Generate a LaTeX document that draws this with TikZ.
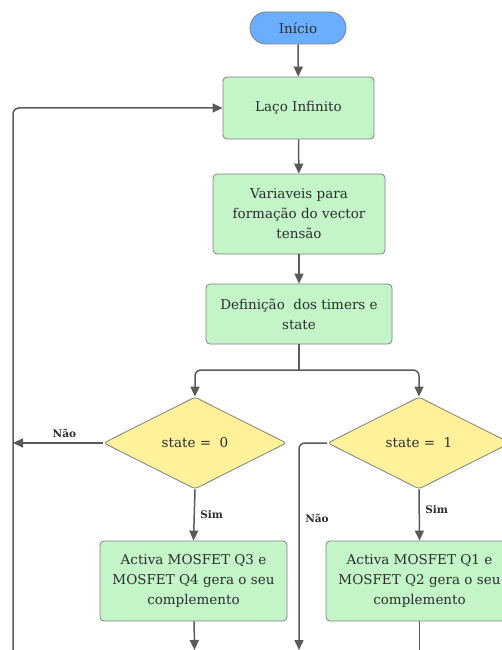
\documentclass[tikz,border=0pt]{standalone}
\usepackage{fontspec}
\setmainfont{DejaVu Serif}
\usetikzlibrary{shapes.geometric,arrows.meta}
\definecolor{startfill}{RGB}{106,174,255}
\definecolor{boxfill}{RGB}{196,245,201}
\definecolor{decfill}{RGB}{255,241,153}
\definecolor{edge}{RGB}{128,128,128}
\definecolor{wire}{RGB}{90,90,90}
\definecolor{ink}{RGB}{45,45,45}
\tikzset{
  body/.style={font=\fontsize{13.5}{20}\selectfont, text=ink},
  terminal/.style={body, draw=edge, fill=startfill, rounded corners=16pt, minimum width=96pt, minimum height=32pt, line width=0.8pt},
  procbox/.style={body, draw=edge, fill=boxfill, rounded corners=4pt, align=center, line width=0.8pt, inner sep=0pt},
  decision/.style={body, draw=edge, fill=decfill, diamond, aspect=2, minimum width=183pt, minimum height=92pt, inner sep=0pt, rounded corners=3pt, line width=0.8pt},
  flow/.style={draw=wire, line width=1.5pt, -{Triangle[length=10pt,width=9pt]}},
  plain/.style={draw=wire, line width=1.5pt},
  lbl/.style={font=\bfseries\fontsize{10.5}{13}\selectfont, text=ink}
}
\begin{document}
\begin{tikzpicture}[x=1pt,y=-1pt]
  \useasboundingbox (0,0) rectangle (501,650);
  % nodes
  \node[terminal] (start) at (298,28) {Início};
  \node[procbox, minimum width=151pt, minimum height=62pt] (laco) at (298.5,108) {Laço Infinito};
  \node[procbox, minimum width=172pt, minimum height=80pt] (vars) at (299,214) {Variaveis para\\formação do vector\\tensão};
  \node[procbox, minimum width=186pt, minimum height=60pt] (defs) at (299,314) {Definição\ \ dos timers e\\state};
  \node[decision] (d0) at (195,443) {state =\ \ 0};
  \node[decision] (d1) at (419,443) {state =\ \ 1};
  \node[procbox, minimum width=187pt, minimum height=80pt] (q3) at (193.5,581) {Activa MOSFET Q3 e\\MOSFET Q4 gera o seu\\complemento};
  \node[procbox, minimum width=187pt, minimum height=80pt] (q1) at (419.5,581) {Activa MOSFET Q1 e\\MOSFET Q2 gera o seu\\complemento};
  % helper points
  \coordinate (split) at (299,370);
  \coordinate (loopbot) at (13,652);
  \coordinate (loopin) at (13,443);
  \coordinate (noout) at (299,650);
  \coordinate (q3out) at (194.5,650);
  \coordinate (q1out) at (419.5,652);
  % connectors
  \draw[flow] (start) -- (laco);
  \draw[flow] (laco) -- (vars);
  \draw[flow] (vars) -- (defs);
  \draw[plain] (defs) -- (split);
  \draw[flow, rounded corners=6pt] (split) -| (d0.north);
  \draw[flow, rounded corners=6pt] (split) -| (d1.north);
  \draw[flow] (d0.west) -- (loopin) node[lbl, pos=0.43, above=1pt] {Não};
  \draw[flow, rounded corners=6pt] (loopbot) |- (laco.west);
  \draw[flow, rounded corners=6pt] (d1.west) -| (noout);
  \node[lbl] (nao1) at (317,518) {Não};
  \draw[flow] (d0.south) -- (q3.north) node[lbl, midway, right=2pt] {Sim};
  \draw[flow] (d1.south) -- (q1.north) node[lbl, pos=0.4, right=2pt] {Sim};
  \draw[flow] (q3) -- (q3out);
  \draw[plain] (q1) -- (q1out);
\end{tikzpicture}
\end{document}
